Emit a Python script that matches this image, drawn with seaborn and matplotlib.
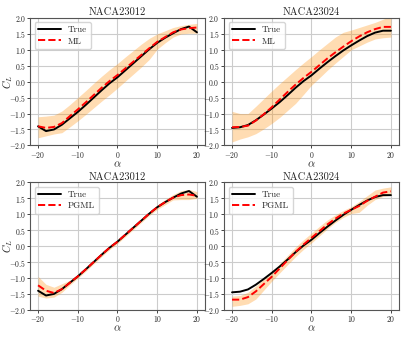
import numpy as np
import pandas as pd
import matplotlib
matplotlib.use("Agg")
import matplotlib.pyplot as plt
import seaborn as sns

sns.set_style("whitegrid")
plt.rcParams.update({
    "font.family": "serif",
    "font.serif": ["cmr10", "DejaVu Serif"],
    "mathtext.fontset": "cm",
    "axes.formatter.use_mathtext": True,
    "axes.edgecolor": "#555555",
    "axes.linewidth": 0.8,
    "grid.color": "#cccccc",
    "grid.linewidth": 0.8,
    "xtick.bottom": True,
    "ytick.left": True,
    "xtick.major.size": 2,
    "ytick.major.size": 2,
    "xtick.labelsize": 5.5,
    "ytick.labelsize": 5.5,
})

alpha = [-20, -18, -16, -14, -12, -10, -8, -6, -4, -2, 0,
         2, 4, 6, 8, 10, 12, 14, 16, 18, 20]

# NACA23012
true_12 = [-1.40, -1.55, -1.50, -1.35, -1.15, -0.95, -0.73, -0.50, -0.27, -0.05, 0.14,
           0.36, 0.58, 0.80, 1.02, 1.22, 1.38, 1.52, 1.65, 1.73, 1.55]
ml_12 = [-1.40, -1.45, -1.42, -1.30, -1.08, -0.87, -0.65, -0.42, -0.19, 0.02, 0.21,
         0.42, 0.63, 0.84, 1.05, 1.25, 1.40, 1.55, 1.64, 1.68, 1.70]
ml_12_lo = [-1.76, -1.70, -1.64, -1.60, -1.42, -1.23, -1.03, -0.82, -0.61, -0.41, -0.20,
            0.02, 0.24, 0.46, 0.70, 1.02, 1.22, 1.40, 1.50, 1.52, 1.52]
ml_12_hi = [-1.10, -1.08, -1.05, -0.92, -0.72, -0.50, -0.28, -0.05, 0.17, 0.38, 0.57,
            0.78, 0.98, 1.18, 1.36, 1.50, 1.60, 1.70, 1.76, 1.80, 1.83]
pg_12 = [-1.23, -1.40, -1.47, -1.35, -1.15, -0.95, -0.73, -0.50, -0.27, -0.05, 0.14,
         0.36, 0.58, 0.80, 1.02, 1.22, 1.38, 1.52, 1.60, 1.62, 1.58]
pg_12_lo = [-1.57, -1.63, -1.60, -1.45, -1.22, -1.01, -0.79, -0.56, -0.33, -0.11, 0.08,
            0.30, 0.52, 0.74, 0.96, 1.15, 1.30, 1.45, 1.46, 1.46, 1.50]
pg_12_hi = [-0.95, -1.20, -1.29, -1.18, -1.07, -0.89, -0.67, -0.44, -0.21, 0.01, 0.20,
            0.42, 0.64, 0.86, 1.08, 1.29, 1.46, 1.62, 1.74, 1.78, 1.71]

# NACA23024
true_24 = [-1.45, -1.43, -1.36, -1.21, -1.03, -0.84, -0.64, -0.42, -0.19, 0.02, 0.20,
           0.41, 0.61, 0.80, 0.98, 1.14, 1.29, 1.43, 1.54, 1.60, 1.60]
ml_24 = [-1.43, -1.42, -1.38, -1.22, -1.02, -0.80, -0.56, -0.32, -0.09, 0.12, 0.31,
         0.52, 0.73, 0.92, 1.10, 1.27, 1.42, 1.55, 1.65, 1.72, 1.72]
ml_24_lo = [-1.89, -1.80, -1.73, -1.63, -1.48, -1.31, -1.12, -0.90, -0.68, -0.40, -0.11,
            0.12, 0.36, 0.58, 0.79, 1.00, 1.12, 1.24, 1.34, 1.38, 1.40]
ml_24_hi = [-0.93, -1.00, -1.00, -0.77, -0.53, -0.29, -0.06, 0.16, 0.38, 0.59, 0.79,
            1.00, 1.20, 1.40, 1.55, 1.62, 1.70, 1.78, 1.86, 1.96, 2.06]
pg_24 = [-1.68, -1.68, -1.60, -1.42, -1.19, -0.96, -0.70, -0.44, -0.18, 0.05, 0.26,
         0.47, 0.68, 0.86, 1.02, 1.14, 1.26, 1.42, 1.55, 1.68, 1.72]
pg_24_lo = [-1.89, -1.86, -1.81, -1.66, -1.38, -1.10, -0.84, -0.58, -0.33, -0.10, 0.10,
            0.32, 0.54, 0.74, 0.90, 1.02, 1.06, 1.28, 1.46, 1.56, 1.60]
pg_24_hi = [-1.57, -1.55, -1.45, -1.25, -1.03, -0.81, -0.55, -0.29, -0.03, 0.20, 0.41,
            0.62, 0.82, 0.98, 1.12, 1.24, 1.40, 1.58, 1.76, 1.82, 1.86]

titles = ["NACA23012", "NACA23024", "NACA23012", "NACA23024"]
model_names = ["ML", "ML", "PGML", "PGML"]
truths = [true_12, true_24, true_12, true_24]
preds = [ml_12, ml_24, pg_12, pg_24]
lows = [ml_12_lo, ml_24_lo, pg_12_lo, pg_24_lo]
highs = [ml_12_hi, ml_24_hi, pg_12_hi, pg_24_hi]

fig, axes = plt.subplots(2, 2, figsize=(4.07, 3.39), dpi=100)
fig.subplots_adjust(left=0.074, right=0.98, top=0.947, bottom=0.086,
                    wspace=0.11, hspace=0.29)

for i, ax in enumerate(axes.flat):
    ax.fill_between(alpha, lows[i], highs[i], color="darkorange", alpha=0.3,
                    linewidth=0)
    df = pd.DataFrame({"alpha": alpha, "True": truths[i], model_names[i]: preds[i]})
    sns.lineplot(data=df, x="alpha", y="True", ax=ax, color="black",
                 linewidth=1.4, label="True")
    sns.lineplot(data=df, x="alpha", y=model_names[i], ax=ax, color="red",
                 linewidth=1.4, linestyle="--", label=model_names[i])
    ax.set_xlim(-22, 22)
    ax.set_ylim(-2, 2)
    ax.set_xticks([-20, -10, 0, 10, 20])
    ax.set_yticks(np.arange(-2, 2.01, 0.5))
    ax.set_title(titles[i], fontsize=7.5, pad=2)
    ax.set_xlabel(r"$\alpha$", fontsize=8, labelpad=0)
    if i % 2 == 0:
        ax.set_ylabel(r"$C_L$", fontsize=7.5)
        ax.yaxis.set_label_coords(-0.085, 0.5)
    else:
        ax.set_ylabel("")
    ax.tick_params(pad=1, width=0.6)
    ax.legend(loc="upper left", fontsize=6.5, frameon=True, fancybox=True,
              borderpad=0.4, handlelength=2.5, labelspacing=0.3)

fig.savefig("out.png", dpi=100)
